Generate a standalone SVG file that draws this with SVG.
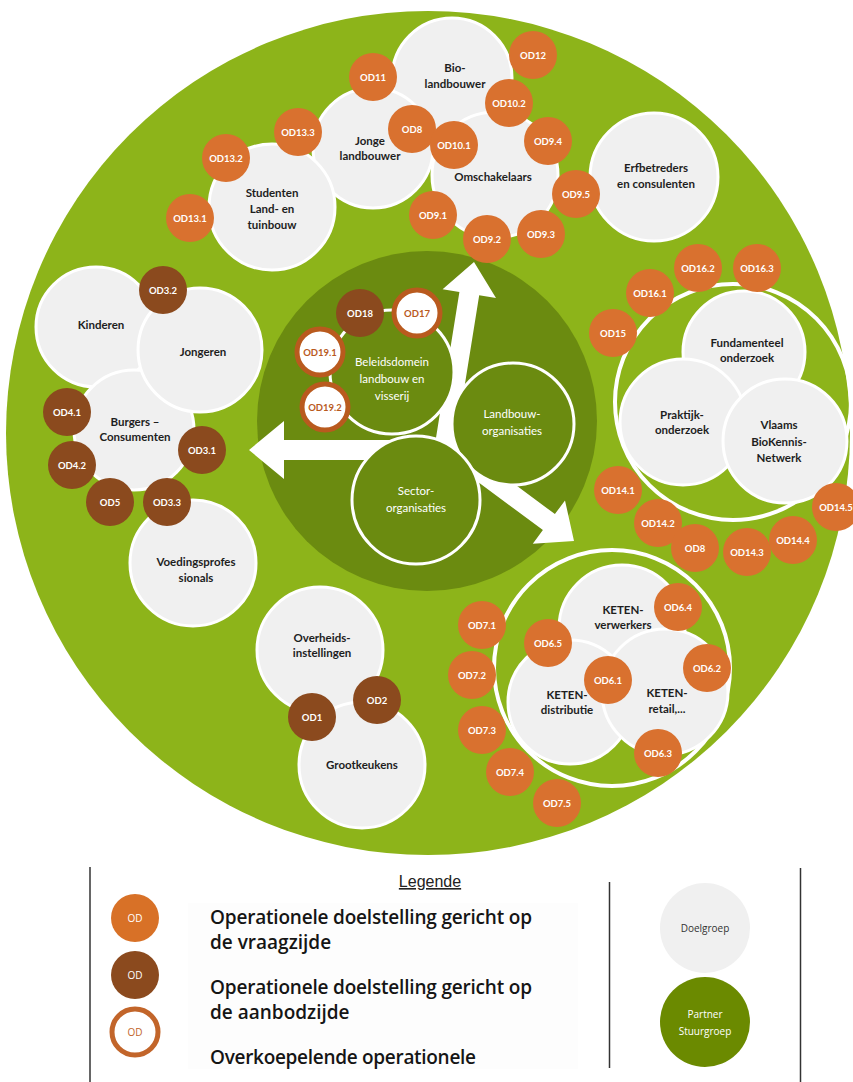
<svg xmlns="http://www.w3.org/2000/svg" width="853" height="1082" viewBox="0 0 853 1082">
<style>
.bg{fill:#8db41a}
.dk{fill:#6b8b10}
.dg{fill:#6b8b10;stroke:#fff;stroke-width:3}
.gc{fill:#f0f0f0;stroke:#fff;stroke-width:3}
.wr{fill:none;stroke:#fff;stroke-width:4}
.od{fill:#d9712f}
.odb{fill:#8b4a1e}
.odr{fill:#fff;stroke:#b95a1e;stroke-width:5}
.lbl{font-family:Lato,'Liberation Sans',sans-serif;font-weight:700;font-size:11.5px;fill:#1e1e1e;text-anchor:middle}
.wl{font-family:Lato,'Liberation Sans',sans-serif;font-weight:400;font-size:11.5px;fill:#fff;text-anchor:middle}
.odt{font-family:Lato,'Liberation Sans',sans-serif;font-weight:700;font-size:9.5px;fill:#fff;text-anchor:middle}
.odtr{font-family:Lato,'Liberation Sans',sans-serif;font-weight:700;font-size:9.5px;fill:#b95a1e;text-anchor:middle}
.lg{font-family:'Open Sans','Liberation Sans',sans-serif;font-weight:600;font-size:19px;fill:#151515}
.sm{font-family:'Open Sans','Liberation Sans',sans-serif;font-size:10px;text-anchor:middle}
</style>

<g id="background">
<circle class="bg" cx="428" cy="433" r="422"/>
<circle class="dk" cx="427" cy="421" r="170"/>
</g>

<g id="connectors" fill="#fff">
<polygon points="435.1,443.4 459.4,292 442.6,289.3 474,262 496,297.9 479.2,295.2 454.9,446.6"/>
<polygon points="445,440 284,440 284,421 249,450 284,479 284,460 445,460"/>
<polygon points="451,437 554.9,514.1 565,500.4 574,541 532.8,543.8 542.9,530.1 439,453"/>
</g>

<g id="partners">
<g id="beleidsdomein"><circle class="dg" cx="392" cy="372" r="62"/>
<text class="wl" x="392" y="366">Beleidsdomein</text><text class="wl" x="392" y="383">landbouw en</text><text class="wl" x="392" y="400">visserij</text></g>
<g id="landbouworganisaties"><circle class="dg" cx="513" cy="424" r="61"/>
<text class="wl" x="512" y="418">Landbouw-</text><text class="wl" x="512" y="435">organisaties</text></g>
<g id="sectororganisaties"><circle class="dg" cx="416" cy="500" r="64"/>
<text class="wl" x="416" y="495">Sector-</text><text class="wl" x="416" y="512">organisaties</text></g>
</g>

<g id="rings">
<circle class="wr" cx="733" cy="402" r="118"/>
<circle class="wr" cx="612" cy="668" r="118"/>
</g>

<g id="doelgroepen">
<g id="bio"><circle class="gc" cx="452" cy="78" r="60"/><text class="lbl" x="455" y="72">Bio-</text><text class="lbl" x="455" y="88">landbouwer</text></g>
<g id="jonge"><circle class="gc" cx="373" cy="148" r="60"/><text class="lbl" x="370" y="145">Jonge</text><text class="lbl" x="370" y="160">landbouwer</text></g>
<g id="studenten"><circle class="gc" cx="272" cy="207" r="63"/><text class="lbl" x="272" y="197">Studenten</text><text class="lbl" x="272" y="213">Land- en</text><text class="lbl" x="272" y="229">tuinbouw</text></g>
<g id="omschakelaars"><circle class="gc" cx="495" cy="175" r="63"/><text class="lbl" x="493" y="181">Omschakelaars</text></g>
<g id="erfbetreders"><circle class="gc" cx="654" cy="177" r="64"/><text class="lbl" x="656" y="172">Erfbetreders</text><text class="lbl" x="656" y="188">en consulenten</text></g>
<g id="kinderen"><circle class="gc" cx="96" cy="327" r="60"/><text class="lbl" x="101" y="329">Kinderen</text></g>
<g id="burgers"><circle class="gc" cx="134" cy="430" r="60"/><text class="lbl" x="135" y="426">Burgers –</text><text class="lbl" x="135" y="441">Consumenten</text></g>
<g id="jongeren"><circle class="gc" cx="200" cy="350" r="62"/><text class="lbl" x="203" y="356">Jongeren</text></g>
<g id="voeding"><circle class="gc" cx="193" cy="563" r="63"/><text class="lbl" x="196" y="566">Voedingsprofes</text><text class="lbl" x="196" y="582">sionals</text></g>
<g id="overheid"><circle class="gc" cx="320" cy="650" r="63"/><text class="lbl" x="322" y="642">Overheids-</text><text class="lbl" x="322" y="657">instellingen</text></g>
<g id="grootkeukens"><circle class="gc" cx="362" cy="765" r="63"/><text class="lbl" x="362" y="769">Grootkeukens</text></g>
<g id="fundamenteel"><circle class="gc" cx="744" cy="352" r="61"/><text class="lbl" x="747" y="347">Fundamenteel</text><text class="lbl" x="747" y="362">onderzoek</text></g>
<g id="praktijk"><circle class="gc" cx="683" cy="422" r="63"/><text class="lbl" x="682" y="419">Praktijk-</text><text class="lbl" x="682" y="434">onderzoek</text></g>
<g id="vlaams"><circle class="gc" cx="785" cy="441" r="62"/><text class="lbl" x="779" y="429">Vlaams</text><text class="lbl" x="779" y="446">BioKennis-</text><text class="lbl" x="779" y="462">Netwerk</text></g>
<g id="verwerkers"><circle class="gc" cx="622" cy="628" r="63"/><text class="lbl" x="623" y="614">KETEN-</text><text class="lbl" x="623" y="629">verwerkers</text></g>
<g id="distributie"><circle class="gc" cx="570" cy="702" r="62"/><text class="lbl" x="567" y="699">KETEN-</text><text class="lbl" x="567" y="714">distributie</text></g>
<g id="retail"><circle class="gc" cx="665" cy="692" r="63"/><text class="lbl" x="667" y="697">KETEN-</text><text class="lbl" x="667" y="713">retail,...</text></g>
</g>

<g id="od-vraag">
<g><circle class="od" cx="373" cy="77" r="24"/><text class="odt" x="373" y="80.5">OD11</text></g>
<g><circle class="od" cx="533" cy="55" r="24"/><text class="odt" x="533" y="58.5">OD12</text></g>
<g><circle class="od" cx="509" cy="103" r="24"/><text class="odt" x="509" y="106.5">OD10.2</text></g>
<g><circle class="od" cx="298" cy="132" r="24"/><text class="odt" x="298" y="135.5">OD13.3</text></g>
<g><circle class="od" cx="412" cy="129" r="24"/><text class="odt" x="412" y="132.5">OD8</text></g>
<g><circle class="od" cx="454" cy="145" r="24"/><text class="odt" x="454" y="148.5">OD10.1</text></g>
<g><circle class="od" cx="548" cy="141" r="24"/><text class="odt" x="548" y="144.5">OD9.4</text></g>
<g><circle class="od" cx="226" cy="158" r="24"/><text class="odt" x="226" y="161.5">OD13.2</text></g>
<g><circle class="od" cx="576" cy="194" r="24"/><text class="odt" x="576" y="197.5">OD9.5</text></g>
<g><circle class="od" cx="190" cy="218" r="24"/><text class="odt" x="190" y="221.5">OD13.1</text></g>
<g><circle class="od" cx="433" cy="215" r="24"/><text class="odt" x="433" y="218.5">OD9.1</text></g>
<g><circle class="od" cx="487" cy="239" r="24"/><text class="odt" x="487" y="242.5">OD9.2</text></g>
<g><circle class="od" cx="541" cy="234" r="24"/><text class="odt" x="541" y="237.5">OD9.3</text></g>
<g><circle class="od" cx="698" cy="268" r="24"/><text class="odt" x="698" y="271.5">OD16.2</text></g>
<g><circle class="od" cx="757" cy="268" r="24"/><text class="odt" x="757" y="271.5">OD16.3</text></g>
<g><circle class="od" cx="650" cy="293" r="24"/><text class="odt" x="650" y="296.5">OD16.1</text></g>
<g><circle class="od" cx="613" cy="333" r="24"/><text class="odt" x="613" y="336.5">OD15</text></g>
<g><circle class="od" cx="618" cy="490" r="24"/><text class="odt" x="618" y="493.5">OD14.1</text></g>
<g><circle class="od" cx="658" cy="523" r="24"/><text class="odt" x="658" y="526.5">OD14.2</text></g>
<g><circle class="od" cx="695" cy="548" r="24"/><text class="odt" x="695" y="551.5">OD8</text></g>
<g><circle class="od" cx="747" cy="552" r="24"/><text class="odt" x="747" y="555.5">OD14.3</text></g>
<g><circle class="od" cx="793" cy="540" r="24"/><text class="odt" x="793" y="543.5">OD14.4</text></g>
<g><circle class="od" cx="836" cy="507" r="24"/><text class="odt" x="836" y="510.5">OD14.5</text></g>
<g><circle class="od" cx="678" cy="607" r="24"/><text class="odt" x="678" y="610.5">OD6.4</text></g>
<g><circle class="od" cx="548" cy="643" r="24"/><text class="odt" x="548" y="646.5">OD6.5</text></g>
<g><circle class="od" cx="608" cy="680" r="24"/><text class="odt" x="608" y="683.5">OD6.1</text></g>
<g><circle class="od" cx="707" cy="668" r="24"/><text class="odt" x="707" y="671.5">OD6.2</text></g>
<g><circle class="od" cx="658" cy="753" r="24"/><text class="odt" x="658" y="756.5">OD6.3</text></g>
<g><circle class="od" cx="482" cy="625" r="24"/><text class="odt" x="482" y="628.5">OD7.1</text></g>
<g><circle class="od" cx="472" cy="675" r="24"/><text class="odt" x="472" y="678.5">OD7.2</text></g>
<g><circle class="od" cx="482" cy="730" r="24"/><text class="odt" x="482" y="733.5">OD7.3</text></g>
<g><circle class="od" cx="510" cy="772" r="24"/><text class="odt" x="510" y="775.5">OD7.4</text></g>
<g><circle class="od" cx="557" cy="803" r="24"/><text class="odt" x="557" y="806.5">OD7.5</text></g>
</g>

<g id="od-aanbod">
<g><circle class="odb" cx="163" cy="290" r="24"/><text class="odt" x="163" y="293.5">OD3.2</text></g>
<g><circle class="odb" cx="67" cy="412" r="24"/><text class="odt" x="67" y="415.5">OD4.1</text></g>
<g><circle class="odb" cx="202" cy="450" r="24"/><text class="odt" x="202" y="453.5">OD3.1</text></g>
<g><circle class="odb" cx="72" cy="465" r="24"/><text class="odt" x="72" y="468.5">OD4.2</text></g>
<g><circle class="odb" cx="110" cy="502" r="24"/><text class="odt" x="110" y="505.5">OD5</text></g>
<g><circle class="odb" cx="167" cy="502" r="24"/><text class="odt" x="167" y="505.5">OD3.3</text></g>
<g><circle class="odb" cx="312" cy="717" r="24"/><text class="odt" x="312" y="720.5">OD1</text></g>
<g><circle class="odb" cx="377" cy="700" r="24"/><text class="odt" x="377" y="703.5">OD2</text></g>
<g><circle class="odb" cx="360" cy="313" r="24"/><text class="odt" x="360" y="316.5">OD18</text></g>
</g>

<g id="od-overkoepelend">
<g><circle class="odr" cx="417" cy="313" r="23"/><text class="odtr" x="417" y="316.5">OD17</text></g>
<g><circle class="odr" cx="320" cy="352" r="23"/><text class="odtr" x="320" y="355.5">OD19.1</text></g>
<g><circle class="odr" cx="325" cy="407" r="23"/><text class="odtr" x="325" y="410.5">OD19.2</text></g>
</g>

<g id="legend">
<line x1="90" y1="867" x2="90" y2="1082" stroke="#333" stroke-width="1.5"/>
<line x1="609.5" y1="882" x2="609.5" y2="1068" stroke="#333" stroke-width="1.5"/>
<line x1="800.5" y1="868" x2="800.5" y2="1082" stroke="#333" stroke-width="1.5"/>
<rect x="188" y="903" width="390" height="166" fill="#fdfdfd"/>
<text x="430" y="887" font-family="'Liberation Sans',sans-serif" font-size="16" fill="#222" text-anchor="middle" text-decoration="underline">Legende</text>
<g id="leg-vraag"><circle cx="135" cy="918" r="24" fill="#d87127"/><text class="sm" x="135" y="921.5" fill="#fff">OD</text></g>
<g id="leg-aanbod"><circle cx="135" cy="975" r="24" fill="#8b4a1e"/><text class="sm" x="135" y="978.5" fill="#fff">OD</text></g>
<g id="leg-overkoepelend"><circle cx="135" cy="1032" r="23" fill="#fff" stroke="#c2652a" stroke-width="5"/><text class="sm" x="135" y="1035.5" fill="#c2652a">OD</text></g>
<text class="lg" x="210" y="924" textLength="322">Operationele doelstelling gericht op</text>
<text class="lg" x="210" y="949">de vraagzijde</text>
<text class="lg" x="210" y="994" textLength="322">Operationele doelstelling gericht op</text>
<text class="lg" x="210" y="1019">de aanbodzijde</text>
<text class="lg" x="210" y="1064" textLength="266">Overkoepelende operationele</text>
<g id="leg-doelgroep"><circle cx="705" cy="928" r="45" fill="#f0f0f0"/><text class="sm" x="705" y="932" fill="#333" font-size="12">Doelgroep</text></g>
<g id="leg-partner"><circle cx="705" cy="1022" r="45" fill="#6b8a00"/><text class="sm" x="705" y="1018" fill="#fff" font-size="12.5">Partner</text><text class="sm" x="705" y="1035" fill="#fff" font-size="12.5">Stuurgroep</text></g>
</g>
</svg>
